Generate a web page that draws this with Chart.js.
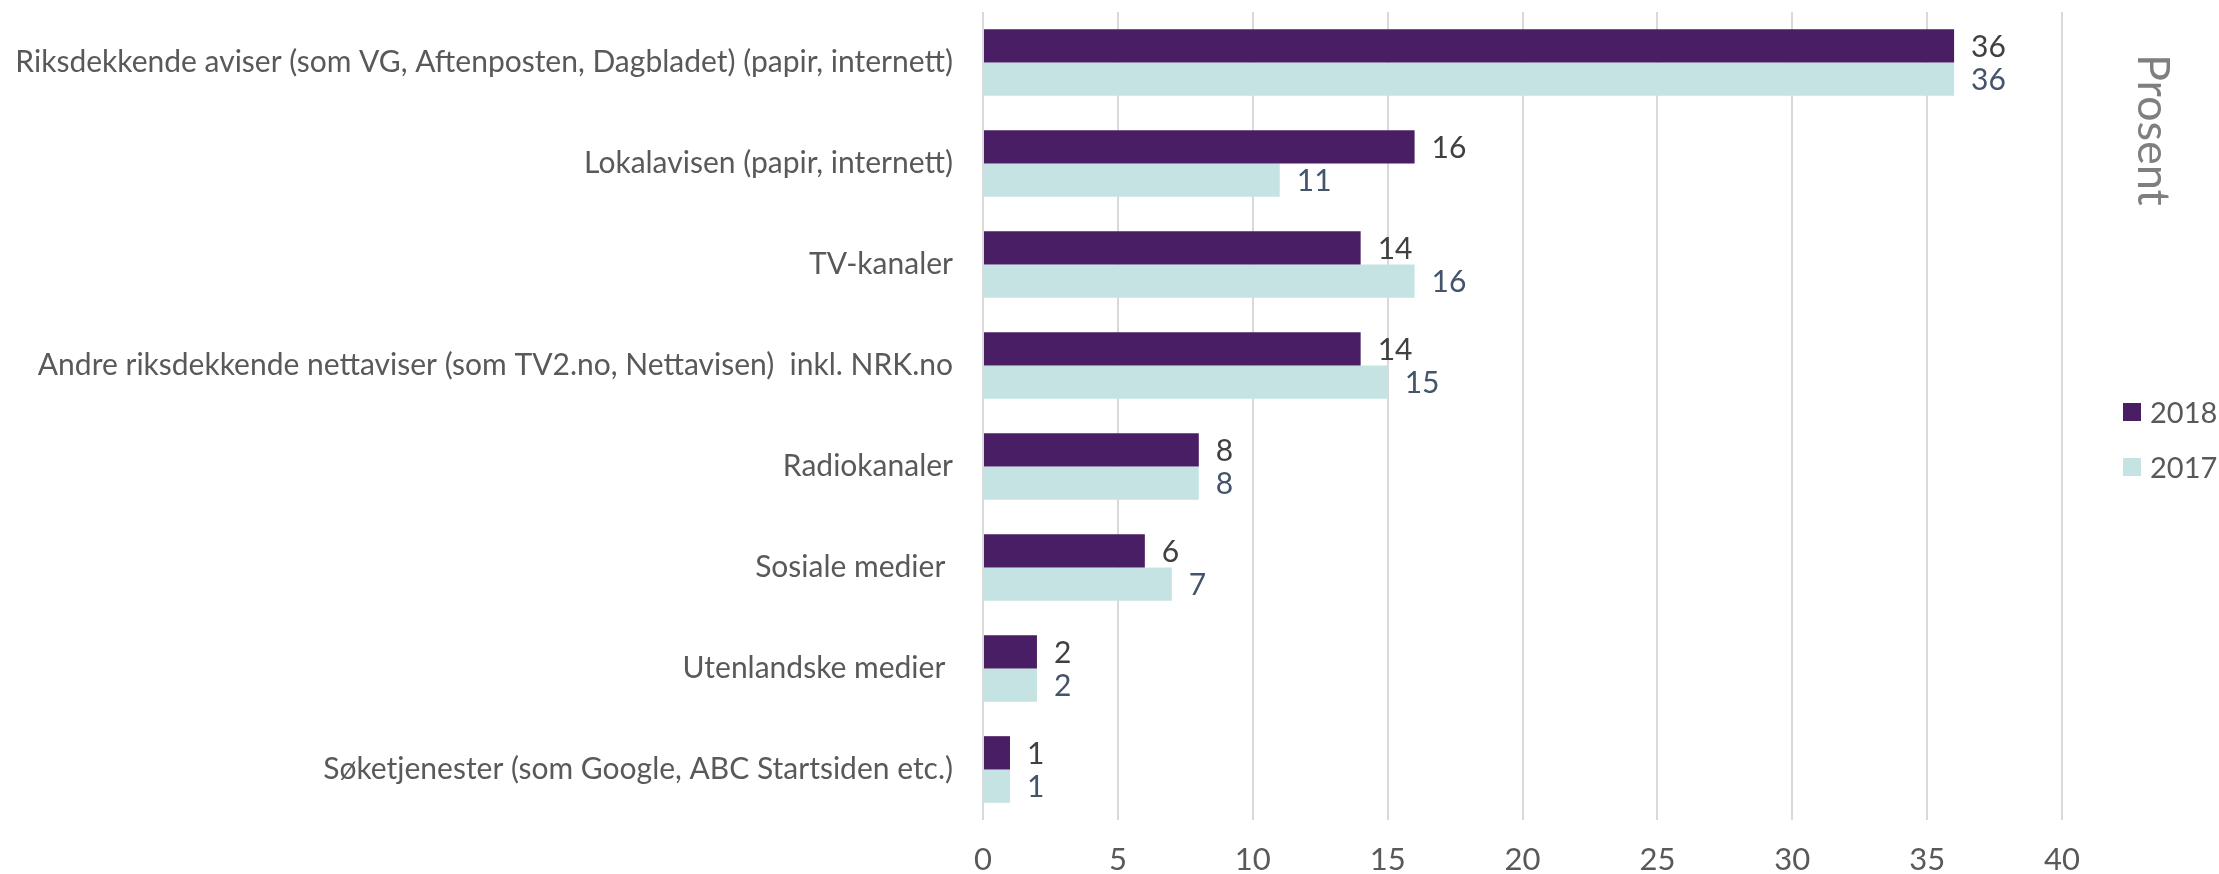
<!DOCTYPE html>
<html>
<head>
<meta charset="utf-8">
<script src="https://cdn.jsdelivr.net/npm/chart.js@4/dist/chart.umd.min.js"></script>
<style>
  html, body { margin: 0; padding: 0; background: #fff; }
  #wrap { position: relative; width: 2219px; height: 874px; }
  #chart { display: block; }
  #legend { position: absolute; left: 2123px; top: 384px; font-family: Lato, sans-serif; font-size: 29px; color: #595959; }
  #legend div { display: flex; align-items: center; height: 55px; }
  #legend span.box { display: inline-block; width: 18px; height: 18px; margin-right: 9px; }
  #unit { position: absolute; left: 2128px; top: 54px; writing-mode: vertical-rl; font-family: Lato, sans-serif; font-size: 45px; color: #7f7f7f; }
</style>
</head>
<body>
<div id="wrap">
  <canvas id="chart" width="2219" height="874"></canvas>
  <div id="legend"></div>
  <div id="unit">Prosent</div>
</div>
<script>
"use strict";

// Data
var categories = [
    'Riksdekkende aviser (som VG, Aftenposten, Dagbladet) (papir, internett)',
    'Lokalavisen (papir, internett)',
    'TV-kanaler',
    'Andre riksdekkende nettaviser (som TV2.no, Nettavisen)  inkl. NRK.no',
    'Radiokanaler',
    'Sosiale medier ',
    'Utenlandske medier ',
    'Søketjenester (som Google, ABC Startsiden etc.)'
];
var values2018 = [36, 16, 14, 14, 8, 6, 2, 1];
var values2017 = [36, 11, 16, 15, 8, 7, 2, 1];
var tickValues = [0, 5, 10, 15, 20, 25, 30, 35, 40];

var seriesNames = ['2018', '2017'];
var barColors = ['#4a1e64', '#c5e3e3'];
var labelColors = ['#404040', '#44546a'];

// Draws the value next to the end of each bar
var valueLabels = {
    id: 'valueLabels',
    afterDatasetsDraw: function (chart) {
        var ctx = chart.ctx;
        ctx.save();
        ctx.font = '30px Lato, sans-serif';
        ctx.textAlign = 'left';
        ctx.textBaseline = 'middle';
        chart.data.datasets.forEach(function (ds, i) {
            var meta = chart.getDatasetMeta(i);
            ctx.fillStyle = labelColors[i];
            meta.data.forEach(function (bar, j) {
                ctx.fillText(String(ds.data[j]), bar.x + 17, bar.y + 1);
            });
        });
        ctx.restore();
    }
};

var config = {
    type: 'bar',
    data: {
        labels: categories,
        datasets: [{
            label: seriesNames[0],
            data: values2018,
            backgroundColor: barColors[0],
            categoryPercentage: 0.66,
            barPercentage: 1.0
        }, {
            label: seriesNames[1],
            data: values2017,
            backgroundColor: barColors[1],
            categoryPercentage: 0.66,
            barPercentage: 1.0
        }]
    },
    options: {
        indexAxis: 'y',
        responsive: false,
        animation: false,
        layout: {
            autoPadding: false,
            padding: { top: 12, right: 157, bottom: 0, left: 0 }
        },
        scales: {
            x: {
                min: 0,
                max: 40,
                afterBuildTicks: function (scale) {
                    scale.ticks = tickValues.map(function (v) { return { value: v }; });
                },
                afterFit: function (scale) {
                    scale.height = 54;
                    scale.paddingLeft = 0;
                    scale.paddingRight = 0;
                },
                grid: {
                    color: '#d9d9d9',
                    lineWidth: 2,
                    drawTicks: false
                },
                border: { display: false },
                ticks: {
                    color: '#595959',
                    padding: 21,
                    font: { family: 'Lato, sans-serif', size: 31 }
                }
            },
            y: {
                afterFit: function (scale) {
                    scale.width = 983;
                    scale.paddingTop = 0;
                    scale.paddingBottom = 0;
                },
                grid: { display: false, drawTicks: false },
                border: { display: false },
                ticks: {
                    color: '#595959',
                    padding: 30,
                    font: { family: 'Lato, sans-serif', size: 30 }
                }
            }
        },
        plugins: {
            legend: { display: false },
            tooltip: { enabled: false }
        }
    },
    plugins: [valueLabels]
};

var ctx = document.getElementById('chart').getContext('2d');
var chart = new Chart(ctx, config);

// Legend built from the datasets
var legend = document.getElementById('legend');
chart.data.datasets.forEach(function (ds) {
    var row = document.createElement('div');
    var box = document.createElement('span');
    box.className = 'box';
    box.style.background = ds.backgroundColor;
    row.appendChild(box);
    row.appendChild(document.createTextNode(ds.label));
    legend.appendChild(row);
});
</script>
</body>
</html>
